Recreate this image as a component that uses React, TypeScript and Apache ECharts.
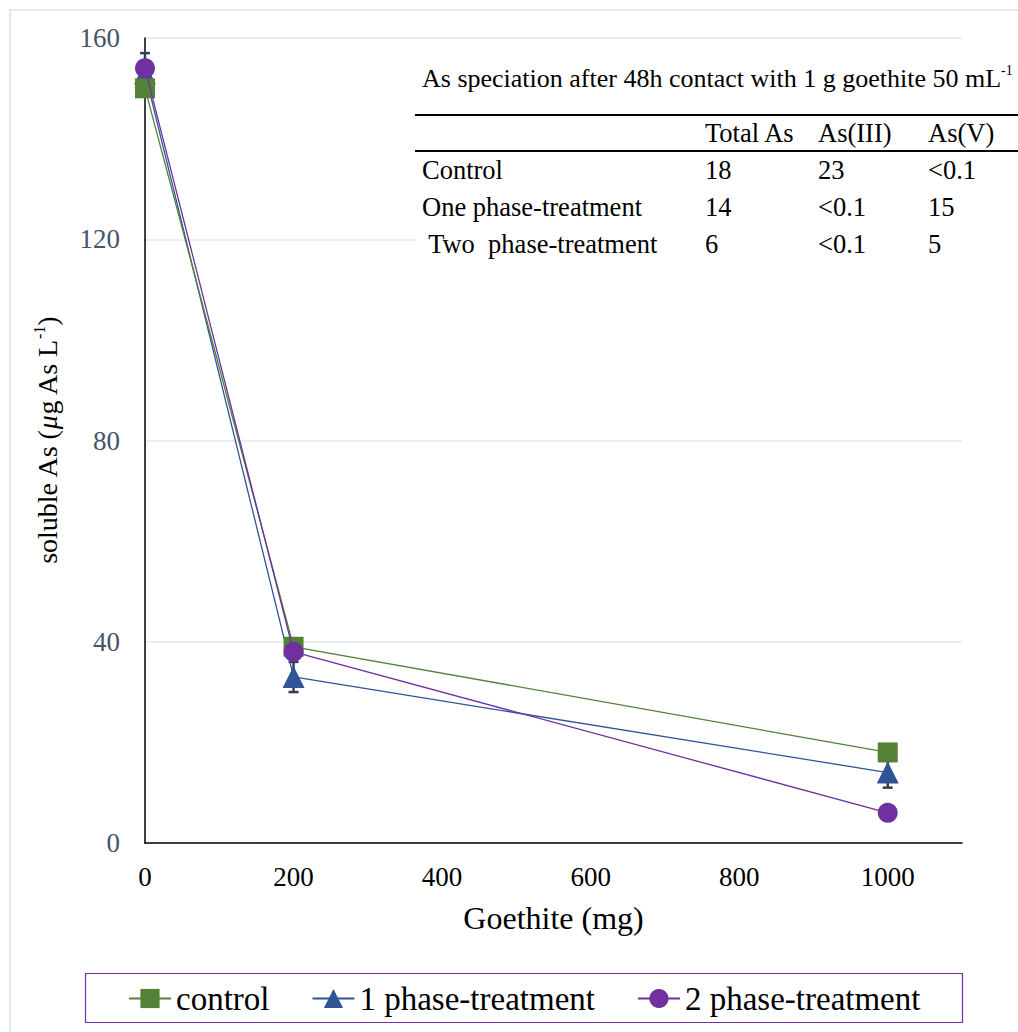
import React, { useEffect, useRef } from "react";
import * as echarts from "echarts";

const xValues = [0, 200, 1000];
const controlValues = [150, 39, 18];
const phase1Values = [153, 33, 14];
const phase2Values = [154, 38, 6];
const phase1Errors = [4, 3, 3];
const seriesNames = ["control", "1 phase-treatment", "2 phase-treatment"];

const tableTitle = "As speciation after 48h contact with 1 g goethite 50 mL";
const tableTitleSup = "-1";
const tableHeaders = ["Total As", "As(III)", "As(V)"];
const tableRowLabels = ["Control", "One phase-treatment", " Two  phase-treatment"];
const tableRows = [
  ["18", "23", "<0.1"],
  ["14", "<0.1", "15"],
  ["6", "<0.1", "5"],
];

const FONT = "Liberation Serif, Times New Roman, serif";
const GREEN = "#538135";
const BLUE = "#2f5597";
const PURPLE = "#7030a0";
const TFS = 26.5;

export default function App() {
  const ref = useRef<HTMLDivElement>(null);
  useEffect(() => {
    if (!ref.current) return;
    const chart = echarts.init(ref.current, undefined, { renderer: "svg" });
    const pts = (vals: number[]) => xValues.map((x, i) => [x, vals[i]]);
    const colX = [705, 818, 928];
    const rowY = [170, 207, 244];
    const tstyle = (text: string) => ({ text, fontFamily: FONT, fontSize: TFS, fill: "#000", verticalAlign: "middle" });
    const tableEls: any[] = [
      { type: "rect", shape: { x: 415, y: 46, width: 620, height: 218 }, style: { fill: "#fff" }, z: 100 },
      {
        type: "text", x: 422, y: 78, z: 101,
        style: {
          text: `{a|${tableTitle}}{s|${tableTitleSup}}`,
          rich: {
            a: { fontFamily: FONT, fontSize: 26, fill: "#000", lineHeight: 30 },
            s: { fontFamily: FONT, fontSize: 14, fill: "#000", lineHeight: 30, verticalAlign: "top" },
          },
          verticalAlign: "middle",
        },
      },
      { type: "line", shape: { x1: 415, y1: 115, x2: 1018, y2: 115 }, style: { stroke: "#000", lineWidth: 2 }, z: 101 },
      { type: "line", shape: { x1: 415, y1: 151, x2: 1018, y2: 151 }, style: { stroke: "#000", lineWidth: 2 }, z: 101 },
    ];
    tableHeaders.forEach((h, i) => {
      tableEls.push({ type: "text", x: colX[i], y: 133, z: 101, style: tstyle(h) });
    });
    tableRowLabels.forEach((lab, r) => {
      tableEls.push({ type: "text", x: 422, y: rowY[r], z: 101, style: tstyle(lab) });
      tableRows[r].forEach((v, c) => {
        tableEls.push({ type: "text", x: colX[c], y: rowY[r], z: 101, style: tstyle(v) });
      });
    });

    const option: any = {
      animation: false,
      backgroundColor: "#fff",
      grid: { left: 145, right: 56, top: 38, bottom: 189 },
      xAxis: {
        type: "value",
        min: 0,
        max: 1100,
        interval: 200,
        name: "Goethite (mg)",
        nameLocation: "middle",
        nameGap: 59,
        nameTextStyle: { fontFamily: FONT, fontSize: 32, color: "#000" },
        axisLine: { show: true, lineStyle: { color: "#000", width: 1.5 } },
        axisTick: { show: false },
        splitLine: { show: false },
        axisLabel: {
          fontFamily: FONT, fontSize: 27, color: "#000", margin: 20,
          formatter: (v: number) => (v % 200 === 0 ? String(v) : ""),
        },
      },
      yAxis: {
        type: "value",
        min: 0,
        max: 160,
        interval: 40,
        name: "{a|soluble As (}{i|μ}{a|g As L}{s|-1}{a|)}",
        nameLocation: "middle",
        nameGap: 82,
        nameTextStyle: {
          rich: {
            a: { fontFamily: FONT, fontSize: 28, color: "#000", lineHeight: 32 },
            i: { fontFamily: FONT, fontSize: 28, color: "#000", fontStyle: "italic", lineHeight: 32 },
            s: { fontFamily: FONT, fontSize: 16, color: "#000", lineHeight: 32, verticalAlign: "top" },
          },
        },
        axisLine: { show: true, lineStyle: { color: "#000", width: 1.5 } },
        axisTick: { show: false },
        splitLine: { show: true, lineStyle: { color: "#e3e7ec", width: 1.5 } },
        axisLabel: { fontFamily: FONT, fontSize: 27, color: "#44546a", margin: 25 },
      },
      legend: {
        left: 123,
        top: 977,
        itemWidth: 42,
        itemHeight: 24,
        itemGap: 42,
        textStyle: { fontFamily: FONT, fontSize: 33, color: "#000" },
        data: seriesNames,
      },
      graphic: [
        { type: "rect", shape: { x: 10, y: 10, width: 1030, height: 1040 }, style: { fill: "none", stroke: "#dde2e8", lineWidth: 1.5 }, z: -10, silent: true },
        { type: "rect", shape: { x: 85.5, y: 973.5, width: 877, height: 49 }, style: { fill: "none", stroke: PURPLE, lineWidth: 1.2 }, z: 50 },
        ...tableEls,
      ],
      series: [
        {
          type: "custom",
          name: "errors",
          z: 1,
          data: xValues.map((x, i) => [x, phase1Values[i], phase1Errors[i]]),
          renderItem: (params: any, api: any) => {
            const x = api.value(0);
            const y = api.value(1);
            const e = api.value(2);
            const top = api.coord([x, y + e]);
            const bot = api.coord([x, y - e]);
            const w = 5;
            const st = { stroke: "#333f50", lineWidth: 2.5 };
            return {
              type: "group",
              children: [
                { type: "line", shape: { x1: top[0], y1: top[1], x2: bot[0], y2: bot[1] }, style: st },
                { type: "line", shape: { x1: top[0] - w, y1: top[1], x2: top[0] + w, y2: top[1] }, style: st },
                { type: "line", shape: { x1: bot[0] - w, y1: bot[1], x2: bot[0] + w, y2: bot[1] }, style: st },
              ],
            };
          },
        },
        {
          type: "line", name: seriesNames[0], data: pts(controlValues), z: 3,
          symbol: "rect", symbolSize: 20,
          lineStyle: { color: GREEN, width: 1.3 }, itemStyle: { color: GREEN },
        },
        {
          type: "line", name: seriesNames[1], data: pts(phase1Values), z: 2,
          symbol: "triangle", symbolSize: 22,
          lineStyle: { color: BLUE, width: 1.3 }, itemStyle: { color: BLUE },
        },
        {
          type: "line", name: seriesNames[2], data: pts(phase2Values), z: 4,
          symbol: "circle", symbolSize: 20,
          lineStyle: { color: PURPLE, width: 1.3 }, itemStyle: { color: PURPLE },
        },
      ],
    };
    chart.setOption(option);
    return () => chart.dispose();
  }, []);
  return <div ref={ref} style={{ width: 1018, height: 1032, position: "absolute", left: 0, top: 0 }} />;
}
